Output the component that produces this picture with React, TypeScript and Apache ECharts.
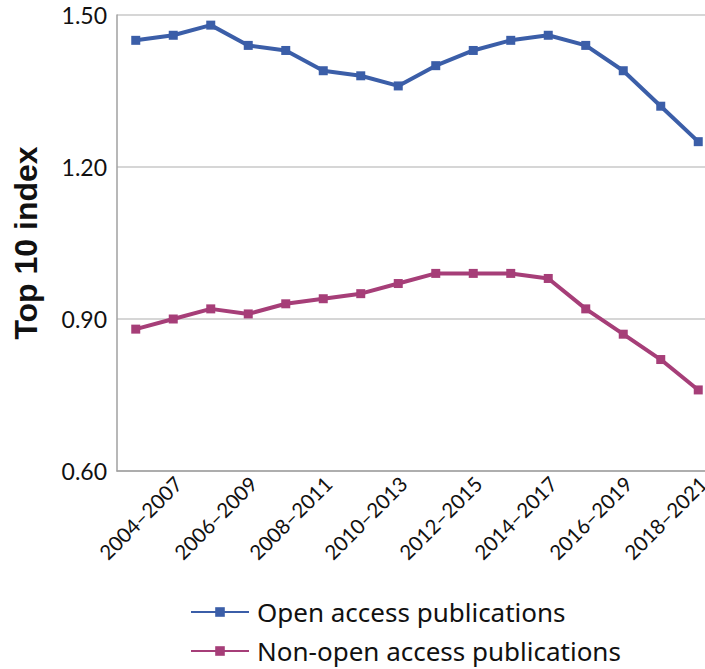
import React, { useEffect, useRef } from "react";
import * as echarts from "echarts";

const categories = [
  "2003–2006", "2004–2007", "2005–2008", "2006–2009", "2007–2010", "2008–2011",
  "2009–2012", "2010–2013", "2011–2014", "2012–2015", "2013–2016", "2014–2017",
  "2015–2018", "2016–2019", "2017–2020", "2018–2021",
];
const openAccess = [1.45, 1.46, 1.48, 1.44, 1.43, 1.39, 1.38, 1.36, 1.40, 1.43, 1.45, 1.46, 1.44, 1.39, 1.32, 1.25];
const nonOpenAccess = [0.88, 0.90, 0.92, 0.91, 0.93, 0.94, 0.95, 0.97, 0.99, 0.99, 0.99, 0.98, 0.92, 0.87, 0.82, 0.76];
const seriesNames = ["Open access publications", "Non-open access publications"];
const yAxisTitle = "Top 10 index";

const BLUE = "#3b5ea8";
const PINK = "#a63e78";
const FONT = "Lato";

export default function App() {
  const ref = useRef<HTMLDivElement>(null);
  useEffect(() => {
    if (!ref.current) return;
    const chart = echarts.init(ref.current, null, { renderer: "svg" });
    const legendBase = {
      orient: "vertical",
      left: 185,
      itemWidth: 58,
      itemHeight: 12,
      textStyle: { fontFamily: "Noto Sans", fontSize: 26, color: "#111", padding: [0, 0, 0, 3] },
    };
    chart.setOption({
      animation: false,
      grid: { left: 117, right: -12, top: 15, bottom: 198, containLabel: false, outerBoundsMode: "none" },
      legend: [
        { ...legendBase, top: 594, data: [seriesNames[0]] },
        { ...legendBase, top: 633, data: [seriesNames[1]] },
      ],
      xAxis: {
        type: "category",
        data: categories,
        boundaryGap: true,
        axisLine: { lineStyle: { color: "#a0a0a0", width: 1.5 } },
        axisTick: { inside: true, length: 10, interval: 0, lineStyle: { color: "#b5b5b5", width: 1.5 } },
        axisLabel: {
          rotate: 45,
          interval: (i: number) => i % 2 === 1,
          margin: 14,
          padding: [0, -7, 0, 0],
          fontFamily: FONT,
          fontSize: 20.5,
          color: "#111",
          hideOverlap: false,
        },
        splitLine: { show: false },
      },
      yAxis: {
        type: "value",
        min: 0.6,
        max: 1.5,
        interval: 0.3,
        name: yAxisTitle,
        nameLocation: "middle",
        nameGap: 75,
        nameTextStyle: { fontFamily: "Liberation Sans", fontWeight: "bold", fontSize: 32, color: "#111" },
        axisLine: { show: true, lineStyle: { color: "#a0a0a0", width: 1.5 } },
        axisTick: { show: false },
        axisLabel: {
          margin: 10,
          fontFamily: FONT,
          fontSize: 23,
          color: "#111",
          formatter: (v: number) => v.toFixed(2),
        },
        splitLine: { lineStyle: { color: "#c8c8c8", width: 1.5 } },
      },
      series: [
        {
          name: seriesNames[0],
          type: "line",
          data: openAccess,
          symbol: "rect",
          symbolSize: 9,
          color: BLUE,
          lineStyle: { width: 4, color: BLUE },
          itemStyle: { color: BLUE },
        },
        {
          name: seriesNames[1],
          type: "line",
          data: nonOpenAccess,
          symbol: "rect",
          symbolSize: 9,
          color: PINK,
          lineStyle: { width: 4, color: PINK },
          itemStyle: { color: PINK },
        },
      ],
    });
    return () => chart.dispose();
  }, []);
  return <div ref={ref} style={{ position: "fixed", left: 0, top: 0, width: 705, height: 669, background: "#fff" }} />;
}
